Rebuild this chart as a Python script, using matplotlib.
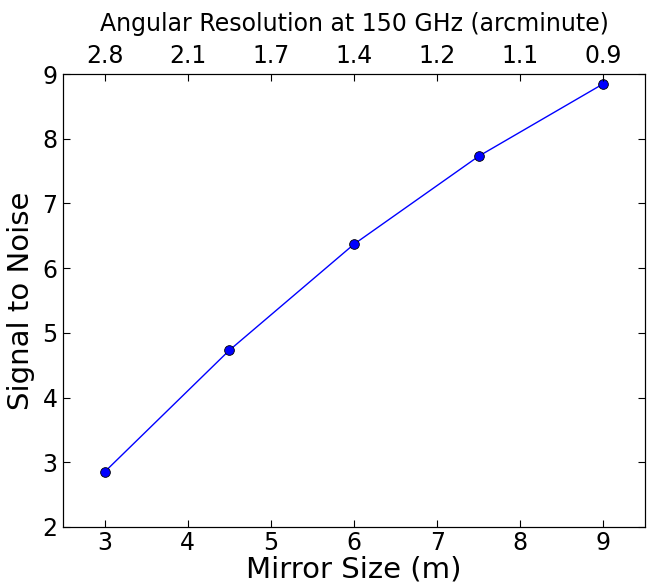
import matplotlib
matplotlib.use("Agg")
import matplotlib.pyplot as plt

# mirror size (m) vs signal to noise
mirror_size = [3.0, 4.5, 6.0, 7.5, 9.0]
snr = [2.85, 4.73, 6.37, 7.73, 8.85]

top_tick_pos = [3, 4, 5, 6, 7, 8, 9]
top_tick_labels = ["2.8", "2.1", "1.7", "1.4", "1.2", "1.1", "0.9"]

fig = plt.figure(figsize=(6.52, 5.87), dpi=100)
ax = fig.add_axes([63 / 652, 1 - 527 / 587, (645 - 63) / 652, (527 - 74) / 587])

ax.plot(mirror_size, snr, "-o", color="b", lw=1.0,
        markersize=7, markerfacecolor="b", markeredgecolor="k", markeredgewidth=0.6)

ax.set_xlim(2.5, 9.5)
ax.set_ylim(2, 9)
ax.set_xticks([3, 4, 5, 6, 7, 8, 9])
ax.set_yticks([2, 3, 4, 5, 6, 7, 8, 9])
ax.tick_params(direction="in", length=5, labelsize=17, right=True, top=False)
ax.tick_params(axis="x", pad=3)
ax.tick_params(axis="y", pad=4)
ax.set_xlabel("Mirror Size (m)", fontsize=21, labelpad=0)
ax.set_ylabel("Signal to Noise", fontsize=21, labelpad=5)

ax2 = ax.twiny()
ax2.set_xlim(ax.get_xlim())
ax2.set_xticks(top_tick_pos)
ax2.set_xticklabels(top_tick_labels)
ax2.tick_params(direction="in", length=5, labelsize=17, pad=4)
ax2.set_xlabel("Angular Resolution at 150 GHz (arcminute)", fontsize=17, labelpad=10)

fig.savefig("out.png", dpi=100)
